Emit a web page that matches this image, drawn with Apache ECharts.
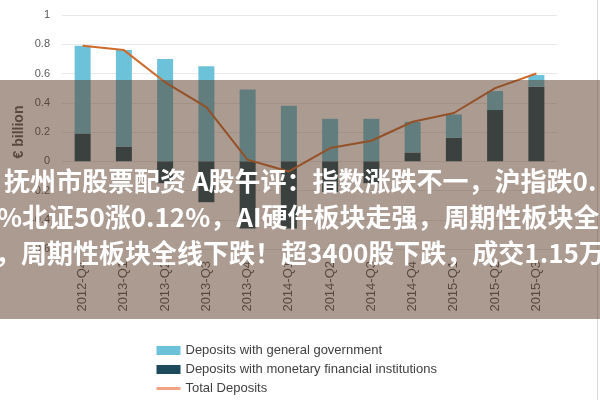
<!DOCTYPE html>
<html>
<head>
<meta charset="utf-8">
<script src="https://cdn.jsdelivr.net/npm/echarts@6/dist/echarts.min.js"></script>
<style>
  html, body { margin: 0; padding: 0; background: #fff; }
  #main { width: 600px; height: 400px; }
</style>
</head>
<body>
<div id="main"></div>
<script>
// 季度
var categories = ['2012-Q4', '2013-Q1', '2013-Q2', '2013-Q3', '2013-Q4', '2014-Q1',
  '2014-Q2', '2014-Q3', '2014-Q4', '2015-Q1', '2015-Q2', '2015-Q3'];
// 存款数据 (€ billion)
var govDeposits = [0.60, 0.66, 0.70, 0.65, 0.49, 0.38, 0.29, 0.29, 0.21, 0.16, 0.13, 0.08];
var mfiDeposits = [0.19, 0.10, -0.15, -0.28, -0.46, -0.46, -0.21, -0.15, 0.06, 0.16, 0.35, 0.51];
var totalDeposits = [0.79, 0.76, 0.54, 0.37, 0.01, -0.07, 0.09, 0.14, 0.27, 0.33, 0.50, 0.60];
// 横幅文字
var bannerLines = [
  '抚州市股票配资 A股午评：指数涨跌不一，沪指跌0.',
  '%北证50涨0.12%，AI硬件板块走强，周期性板块全',
  '，周期性板块全线下跌！超3400股下跌，成交1.15万'
];

var latin = '"Liberation Sans", Arial, sans-serif';
var cjk = '"Noto Sans CJK SC", sans-serif';

function setDepositChart() {
  var dom = document.getElementById('main');
  var myChart = echarts.init(dom);
  var option = {
    backgroundColor: '#fff',
    animation: false,
    grid: {
      left: 62,
      right: 43,
      top: 15,
      bottom: 151
    },
    legend: {
      orient: 'vertical',
      left: 150,
      top: 339,
      itemWidth: 24,
      itemHeight: 9,
      itemGap: 6,
      textStyle: {
        color: '#404040',
        fontSize: 13,
        fontFamily: latin
      },
      data: [
        { name: 'Deposits with general government', icon: 'rect' },
        { name: 'Deposits with monetary financial institutions', icon: 'rect' },
        {
          name: 'Total Deposits',
          itemStyle: { opacity: 0 },
          lineStyle: { color: '#f2a383', width: 3, opacity: 1 }
        }
      ]
    },
    xAxis: {
      type: 'category',
      data: categories,
      axisLine: { show: false },
      axisTick: { show: false },
      axisLabel: {
        rotate: 90,
        margin: 12,
        color: '#595959',
        fontSize: 13,
        fontFamily: latin
      }
    },
    yAxis: {
      type: 'value',
      min: -0.6,
      max: 1,
      interval: 0.2,
      name: '€ billion',
      nameLocation: 'middle',
      nameGap: 36,
      nameMoveOverlap: false,
      nameTextStyle: {
        color: '#595959',
        fontSize: 14,
        fontWeight: 'bold',
        fontFamily: latin
      },
      axisLine: { show: false },
      axisTick: { show: false },
      splitLine: {
        lineStyle: { color: '#e8e8e8', width: 1 }
      },
      axisLabel: {
        margin: 12,
        color: '#595959',
        fontSize: 11,
        fontFamily: latin,
        formatter: function (value) {
          return String(Math.round(value * 10) / 10);
        }
      }
    },
    series: [
      {
        name: 'Deposits with monetary financial institutions',
        type: 'bar',
        stack: 'dep',
        barWidth: 16,
        data: mfiDeposits,
        itemStyle: { color: '#1d4a5a' }
      },
      {
        name: 'Deposits with general government',
        type: 'bar',
        stack: 'dep',
        barWidth: 16,
        data: govDeposits,
        itemStyle: { color: '#6cc2d8' }
      },
      {
        name: 'Total Deposits',
        type: 'line',
        data: totalDeposits,
        showSymbol: false,
        symbol: 'none',
        lineStyle: { color: '#d06a2c', width: 2 },
        itemStyle: { color: '#d06a2c' }
      }
    ],
    graphic: [
      {
        type: 'line',
        z: 90,
        shape: { x1: 597.5, y1: 0, x2: 597.5, y2: 400 },
        style: { stroke: '#d9d9d9', lineWidth: 1 }
      },
      {
        type: 'rect',
        z: 100,
        shape: { x: 0, y: 80, width: 600, height: 239 },
        style: { fill: 'rgba(88, 56, 36, 0.5)' }
      },
      {
        type: 'text',
        z: 101,
        x: 4,
        y: 181,
        style: {
          text: bannerLines[0],
          fill: '#fff',
          font: 'bold 26px ' + cjk,
          verticalAlign: 'middle'
        }
      },
      {
        type: 'text',
        z: 101,
        x: -3,
        y: 217,
        style: {
          text: bannerLines[1],
          fill: '#fff',
          font: 'bold 26px ' + cjk,
          verticalAlign: 'middle'
        }
      },
      {
        type: 'text',
        z: 101,
        x: -5,
        y: 253,
        style: {
          text: bannerLines[2],
          fill: '#fff',
          font: 'bold 26px ' + cjk,
          verticalAlign: 'middle'
        }
      }
    ]
  };
  myChart.setOption(option, true);
}

setDepositChart();
</script>
</body>
</html>
